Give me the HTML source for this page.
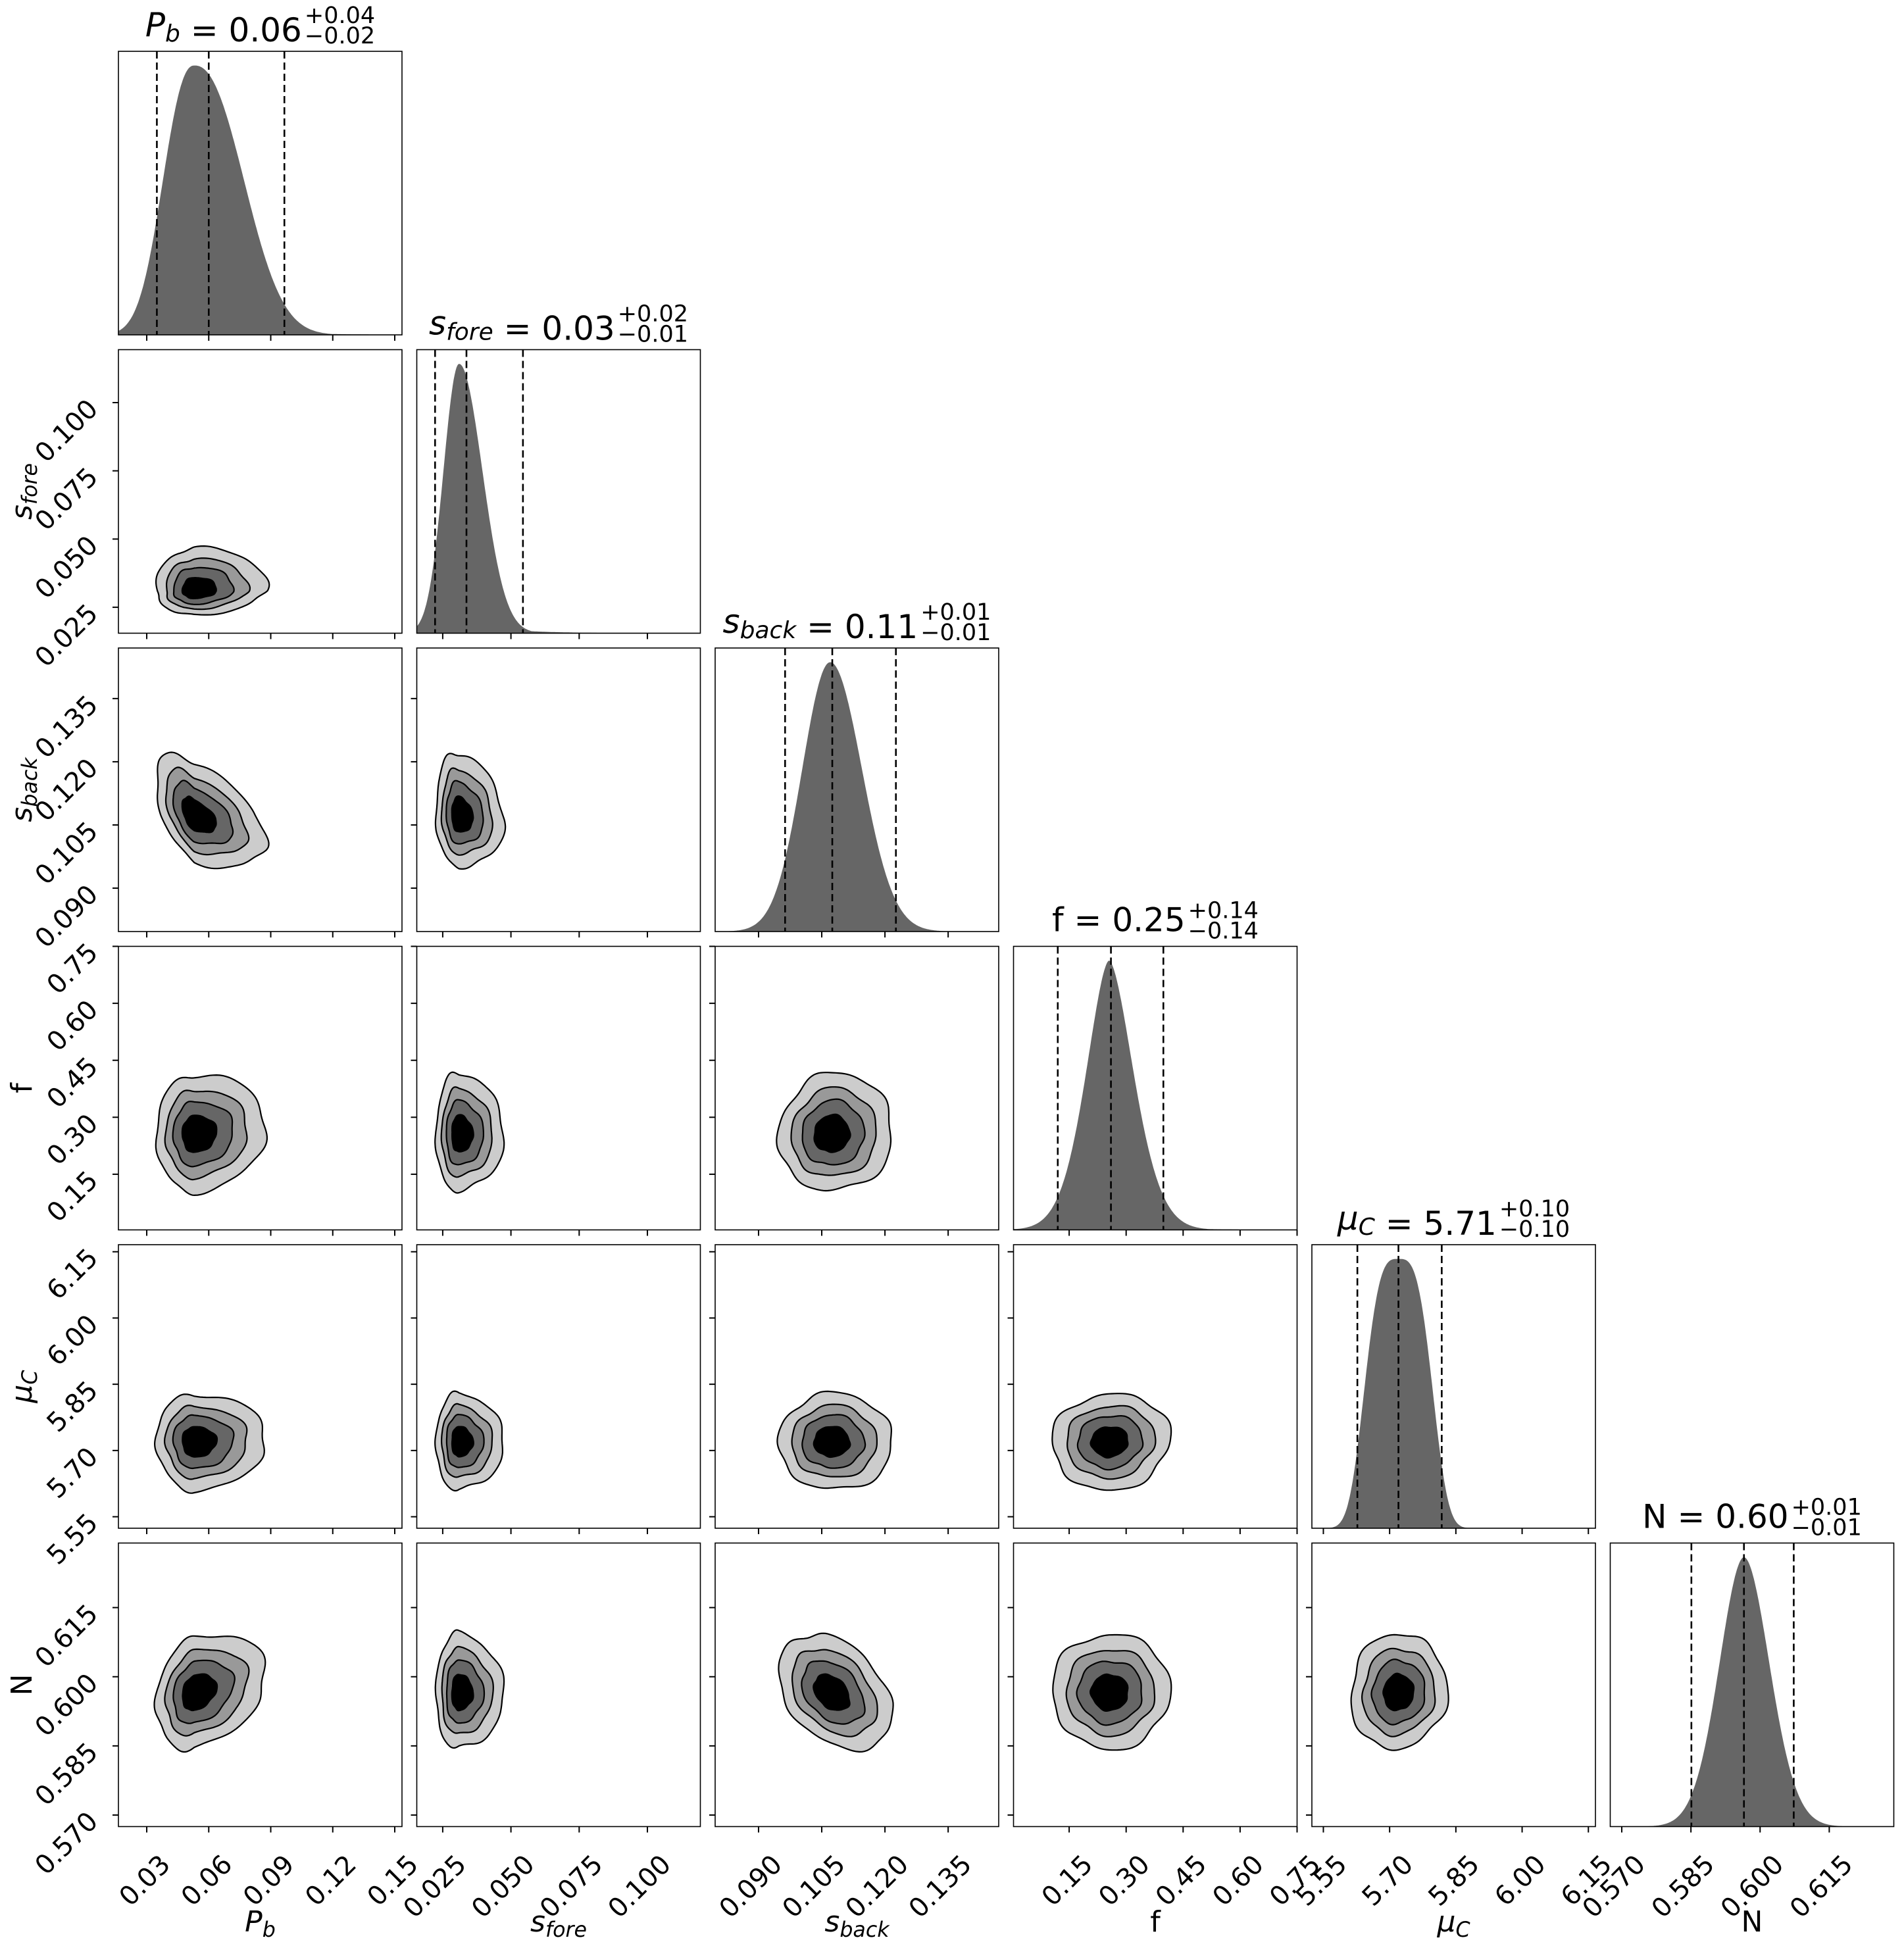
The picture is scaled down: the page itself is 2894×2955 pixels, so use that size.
<!DOCTYPE html>
<html><head><meta charset="utf-8">
<style>html,body{margin:0;padding:0;background:#fff;}svg{display:block;}
text{font-family:"DejaVu Sans","Liberation Sans",sans-serif;fill:#000;}</style></head>
<body>
<svg id="s" xmlns="http://www.w3.org/2000/svg" width="2894" height="2955" viewBox="0 0 2894 2955"></svg>
<script>
const svg=document.getElementById('s');
const X0=180,Y0=78,P=453.5,S=431;
const par=[
 {r:[0.0163,0.1535],t:[0.03,0.06,0.09,0.12,0.15],tl:["0.03","0.06","0.09","0.12","0.15"],m:0.053,sl:0.016,sr:0.03,h:[0.0145,0.023,2.3],q:[0.0349,0.060,0.0966],name:'<tspan font-style="italic">P</tspan><tspan font-style="italic" font-size="0.72em" dy="8">b</tspan>',tv:"0.06",up:"+0.04",dn:"\u22120.02"},
 {r:[0.0155,0.1194],t:[0.025,0.05,0.075,0.1],tl:["0.025","0.050","0.075","0.100"],m:0.031,sl:0.0075,sr:0.014,h:[0.0057,0.0085,2],q:[0.0222,0.0337,0.0544],name:'<tspan font-style="italic">s</tspan><tspan font-style="italic" font-size="0.72em" dy="8">fore</tspan>',tv:"0.03",up:"+0.02",dn:"\u22120.01"},
 {r:[0.0797,0.1470],t:[0.09,0.105,0.12,0.135],tl:["0.090","0.105","0.120","0.135"],m:0.107,sl:0.0105,sr:0.013,h:[0.0066,0.0075,2],q:[0.0963,0.1075,0.1226],name:'<tspan font-style="italic">s</tspan><tspan font-style="italic" font-size="0.72em" dy="8">back</tspan>',tv:"0.11",up:"+0.01",dn:"\u22120.01"},
 {r:[0.0035,0.75],t:[0.15,0.3,0.45,0.6,0.75],tl:["0.15","0.30","0.45","0.60","0.75"],m:0.255,sl:0.13,sr:0.14,h:[0.058,0.062,1.7],q:[0.120,0.260,0.398],name:'f',tv:"0.25",up:"+0.14",dn:"\u22120.14"},
 {r:[5.524,6.166],t:[5.55,5.7,5.85,6.0,6.15],tl:["5.55","5.70","5.85","6.00","6.15"],m:5.72,sl:0.095,sr:0.095,h:[0.071,0.071,3.3],q:[5.627,5.720,5.818],name:'<tspan font-style="italic">\u03bc</tspan><tspan font-style="italic" font-size="0.72em" dy="8">C</tspan>',tv:"5.71",up:"+0.10",dn:"\u22120.10"},
 {r:[0.5675,0.629],t:[0.57,0.585,0.6,0.615],tl:["0.570","0.585","0.600","0.615"],m:0.5965,sl:0.0105,sr:0.0112,h:[0.0053,0.0055,1.9],q:[0.5851,0.5965,0.6073],name:'N',tv:"0.60",up:"+0.01",dn:"\u22120.01"}
];
const rho={"0,1":0.05,"0,2":-0.5,"1,2":-0.1,"0,3":0.05,"1,3":0,"2,3":0.05,"0,4":0,"1,4":0,"2,4":0,"3,4":0.05,"0,5":0.25,"1,5":0,"2,5":-0.35,"3,5":0,"4,5":0.05};
let out='';
function px(k,v){const p=par[k];return (v-p.r[0])/(p.r[1]-p.r[0])*S;}
function dens(k,v){const p=par[k],h=p.h;const z=Math.abs((v-p.m)/(v<p.m?h[0]:h[1]));let d=Math.exp(-0.5*Math.pow(z,h[2]));
 if(k==1&&v>p.m)d=Math.max(d,0.05*Math.exp(-(v-p.m)/0.014));
 if(k==0&&v>p.m)d=Math.max(d,0.09*Math.exp(-(v-p.m)/0.02));
 if(k==3)d=Math.max(d,0.04*Math.exp(-Math.abs(v-p.m)/0.1));
 return d;}
for(let i=0;i<6;i++){
 for(let j=0;j<=i;j++){
  const x=X0+j*P,y=Y0+i*P;
  out+=`<g transform="translate(${x},${y})">`;
  if(i==j){
   let pts=`0,${S} `;
   for(let s=0;s<=300;s++){const v=par[j].r[0]+(par[j].r[1]-par[j].r[0])*s/300;const hh=dens(j,v)*S*0.95;pts+=`${(s/300*S).toFixed(1)},${(S-hh).toFixed(1)} `;}
   pts+=`${S},${S}`;
   out+=`<polygon points="${pts}" fill="#666"/>`;
   for(const q of par[j].q){const xx=px(j,q);out+=`<line x1="${xx}" y1="0" x2="${xx}" y2="${S}" stroke="#000" stroke-width="2.6" stroke-dasharray="11,6"/>`;}
  } else {
   const r=rho[j+","+i]||0;const a=par[j],b=par[i];
   const ks=[1.15,0.86,0.63,0.36];const cols=["#cccccc","#999999","#666666","#000000"];
   ks.forEach((k,idx)=>{let d='';
    for(let s=0;s<=140;s++){const th=s/140*2*Math.PI;const u=Math.cos(th),w=Math.sin(th);
     const A=u,B=r*u+Math.sqrt(1-r*r)*w;
     const kk=k*(1+0.035*Math.sin(5*th+i+j+idx)+0.025*Math.sin(3*th+2*j)+0.015*Math.sin(9*th+i));
     const vx=a.m+kk*A*(A<0?a.sl:a.sr),vy=b.m+kk*B*(B<0?b.sl:b.sr);
     d+=(s?'L':'M')+px(j,vx).toFixed(1)+','+(S-px(i,vy)).toFixed(1);}
    out+=`<path d="${d}Z" fill="${cols[idx]}" stroke="#000" stroke-width="2.2"/>`;});
   for(let t=0;t<b.t.length;t++){const yy=S-px(i,b.t[t]);out+=`<line x1="-9" y1="${yy}" x2="0" y2="${yy}" stroke="#000" stroke-width="2"/>`;}
  }
  for(let t=0;t<par[j].t.length;t++){const xx=px(j,par[j].t[t]);out+=`<line x1="${xx}" y1="${S}" x2="${xx}" y2="${S+9}" stroke="#000" stroke-width="2"/>`;}
  out+=`<rect x="0" y="0" width="${S}" height="${S}" fill="none" stroke="#000" stroke-width="1.6"/>`;
  out+='</g>';
 }
 const cx=X0+i*P+S/2,ty=Y0+i*P-23;
 out+=`<g class="title" data-cx="${cx}"><text class="m" x="0" y="${ty}" font-size="50">${par[i].name} = ${par[i].tv}</text>`;
 out+=`<text class="u" x="0" y="${ty-20}" font-size="35">${par[i].up}</text>`;
 out+=`<text class="d" x="0" y="${ty+11}" font-size="35">${par[i].dn}</text></g>`;
}
for(let j=0;j<6;j++){
 const x=X0+j*P,yb=Y0+5*P+S;
 par[j].t.forEach((t,k)=>{const xx=x+px(j,t)+38,yy=yb+60;
  out+=`<text x="${xx}" y="${yy}" font-size="40" text-anchor="end" transform="rotate(-45 ${xx} ${yy})">${par[j].tl[k]}</text>`;});
 out+=`<text x="${x+S/2}" y="2936" font-size="44" text-anchor="middle">${par[j].name}</text>`;
}
for(let i=1;i<6;i++){
 const y=Y0+i*P;
 par[i].t.forEach((t,k)=>{const yy=y+S-px(i,t)+12,xx=151;
  out+=`<text x="${xx}" y="${yy}" font-size="40" text-anchor="end" transform="rotate(-45 ${xx} ${yy})">${par[i].tl[k]}</text>`;});
 out+=`<text x="0" y="0" font-size="44" text-anchor="middle" transform="translate(48 ${y+S/2}) rotate(-90)">${par[i].name}</text>`;
}
svg.innerHTML=out;
document.querySelectorAll('g.title').forEach(g=>{
 const cx=+g.getAttribute('data-cx');const m=g.querySelector('.m'),u=g.querySelector('.u'),d=g.querySelector('.d');
 const wm=m.getComputedTextLength(),ws=Math.max(u.getComputedTextLength(),d.getComputedTextLength());
 const x0=cx-(wm+ws+4)/2;m.setAttribute('x',x0);u.setAttribute('x',x0+wm+4);d.setAttribute('x',x0+wm+4);
});
</script>
</body></html>
